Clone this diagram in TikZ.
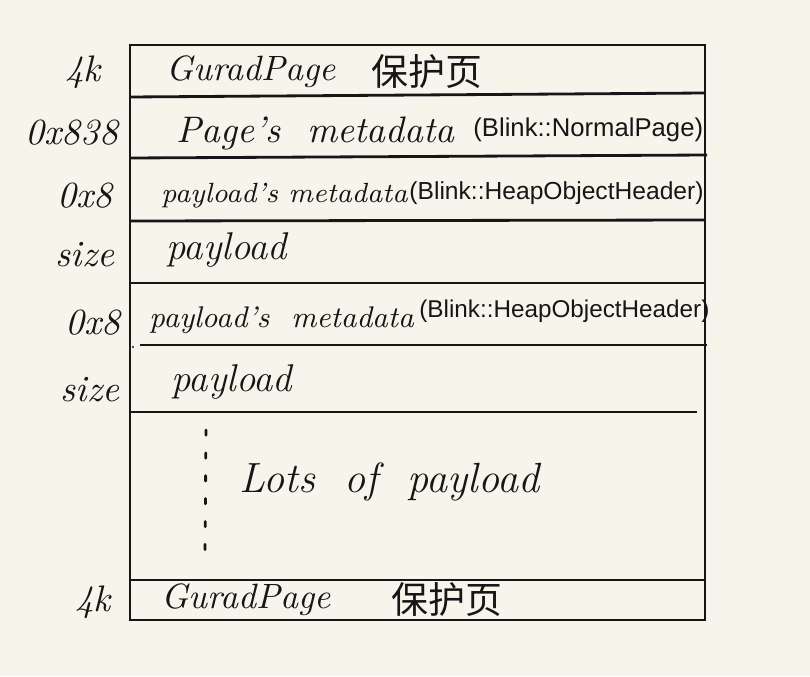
\documentclass[tikz,border=0pt]{standalone}
\usepackage{fontspec}
\newfontfamily\cjk{Noto Sans CJK SC}
\newfontfamily\blinkfont{Liberation Sans}
\definecolor{paper}{RGB}{246,245,236}
\definecolor{ink}{RGB}{22,22,22}
\tikzset{
  hand/.style={font=\fontsize{11}{13}\selectfont\itshape, anchor=west},
  small hand/.style={font=\fontsize{8.5}{10}\selectfont\itshape, anchor=west},
  side/.style={font=\fontsize{10.5}{13}\selectfont\itshape},
  blink/.style={font=\fontsize{7}{8}\selectfont\blinkfont, anchor=west},
  cn/.style={font=\fontsize{10.5}{12}\selectfont\cjk, anchor=west}
}
\begin{document}
\begin{tikzpicture}[x=0.01cm, y=-0.01cm, line width=0.8pt, draw=ink, every node/.append style={inner sep=0pt, text=ink}]
  \fill[paper] (0,0) rectangle (810,676);
  \draw (130,45) rectangle (705,620);
  \draw (130,97) -- (705,93);
  \draw (130,158) -- (707,155);
  \draw (130,221) -- (705,220);
  \draw (130,283) -- (705,283);
  \draw (140,345) -- (707,345);  \fill[ink] (133,347) circle (1.2);
  \draw (130,412) -- (697,412);
  \draw (130,580) -- (705,580);
  \draw[line cap=round, dash pattern=on 1.5pt off 5pt] (206,430) -- (205,555);

  \node[side] (l4k)  at (83,72)  {4k};
  \node[side] (l838) at (72,133) {0x838};
  \node[side] (l8a)  at (85,196) {0x8};
  \node[side] (lsz1) at (85,255) {size};
  \node[side] (l8b)  at (93,323) {0x8};
  \node[side] (lsz2) at (90,390) {size};
  \node[side] (l4kb) at (93,602) {4k};

  \node[hand, font=\fontsize{10}{12}\selectfont\itshape] (gtop) at (165,72) {GuradPage};  \node[cn] (gtopcn) at (370,72) {保护页};
  \node[hand, font=\fontsize{10.5}{12}\selectfont\itshape] (pmeta) at (175,133) {Page's\ \ metadata};  \node[blink, font=\fontsize{7.3}{8}\selectfont\blinkfont] (pblink) at (472,130) {(Blink::NormalPage)};
  \node[small hand, font=\fontsize{7.9}{10}\selectfont\itshape] (ometa1) at (160,196) {payload's metadata};  \node[blink] (oblink1) at (408,193) {(Blink::HeapObjectHeader)};
  \node[hand] (pay1)   at (165,250) {payload};
  \node[small hand] (ometa2) at (148,320) {payload's\ \ metadata};  \node[blink, font=\fontsize{6.9}{8}\selectfont\blinkfont] (oblink2) at (418,311) {(Blink::HeapObjectHeader)};
  \node[hand] (pay2)   at (170,382) {payload};
  \node[hand, font=\fontsize{12}{15}\selectfont\itshape] (lots) at (238,482) {Lots\ \ of\ \ payload};
  \node[hand, font=\fontsize{10}{12}\selectfont\itshape] (gbot) at (160,600) {GuradPage};  \node[cn] (gbotcn) at (390,600) {保护页};
\end{tikzpicture}
\end{document}
